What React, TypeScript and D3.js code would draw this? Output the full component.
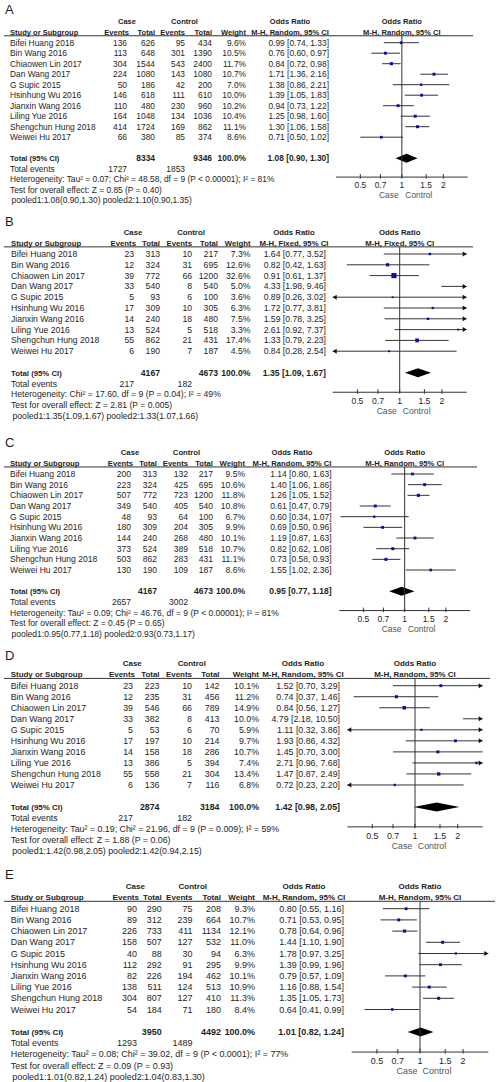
import * as d3 from "d3";

// study names are the same in every panel
const studies = [
  "Bifei Huang 2018", "Bin Wang 2016", "Chiaowen Lin 2017", "Dan Wang 2017", "G Supic 2015",
  "Hsinhung Wu 2016", "Jianxin Wang 2016", "Liling Yue 2016", "Shengchun Hung 2018", "Weiwei Hu 2017",
];
const ticks = [0.5, 0.7, 1, 1.5, 2];

// panel A
const aCaseEvents = [136, 113, 304, 224, 50, 146, 110, 164, 414, 66];
const aCaseTotal = [626, 648, 1544, 1080, 186, 618, 480, 1048, 1724, 380];
const aCtrlEvents = [95, 301, 543, 143, 42, 111, 230, 134, 169, 85];
const aCtrlTotal = [434, 1390, 2400, 1080, 200, 610, 960, 1036, 862, 374];
const aWeight = [9.6, 10.5, 11.7, 10.7, 7.0, 10.0, 10.2, 10.4, 11.1, 8.6];
const aOR = [0.99, 0.76, 0.84, 1.71, 1.38, 1.39, 0.94, 1.25, 1.30, 0.71];
const aLo = [0.74, 0.60, 0.72, 1.36, 0.86, 1.05, 0.73, 0.98, 1.06, 0.50];
const aHi = [1.33, 0.97, 0.98, 2.16, 2.21, 1.83, 1.22, 1.60, 1.58, 1.02];
const aTotals = [8334, 9346, 1727, 1853];
const aPooled = [1.08, 0.90, 1.30];

// panel B
const bCaseEvents = [23, 12, 39, 33, 5, 17, 14, 13, 55, 6];
const bCaseTotal = [313, 324, 772, 540, 93, 309, 240, 524, 862, 190];
const bCtrlEvents = [10, 31, 66, 8, 6, 10, 18, 5, 21, 7];
const bCtrlTotal = [217, 695, 1200, 540, 100, 305, 480, 518, 431, 187];
const bWeight = [7.3, 12.6, 32.6, 5.0, 3.6, 6.3, 7.5, 3.3, 17.4, 4.5];
const bOR = [1.64, 0.82, 0.91, 4.33, 0.89, 1.72, 1.59, 2.61, 1.33, 0.84];
const bLo = [0.77, 0.42, 0.61, 1.98, 0.26, 0.77, 0.78, 0.92, 0.79, 0.28];
const bHi = [3.52, 1.63, 1.37, 9.46, 3.02, 3.81, 3.25, 7.37, 2.23, 2.54];
const bTotals = [4167, 4673, 217, 182];
const bPooled = [1.35, 1.09, 1.67];

// panel C
const cCaseEvents = [200, 223, 507, 349, 48, 180, 144, 373, 503, 130];
const cCaseTotal = [313, 324, 772, 540, 93, 309, 240, 524, 862, 190];
const cCtrlEvents = [132, 425, 723, 405, 64, 204, 268, 389, 283, 109];
const cCtrlTotal = [217, 695, 1200, 540, 100, 305, 480, 518, 431, 187];
const cWeight = [9.5, 10.6, 11.8, 10.8, 6.7, 9.9, 10.1, 10.7, 11.1, 8.6];
const cOR = [1.14, 1.40, 1.26, 0.61, 0.60, 0.69, 1.19, 0.82, 0.73, 1.55];
const cLo = [0.80, 1.06, 1.05, 0.47, 0.34, 0.50, 0.87, 0.62, 0.58, 1.02];
const cHi = [1.63, 1.86, 1.52, 0.79, 1.07, 0.96, 1.63, 1.08, 0.93, 2.36];
const cTotals = [4167, 4673, 2657, 3002];
const cPooled = [0.95, 0.77, 1.18];

// panel D
const dCaseEvents = [23, 12, 39, 33, 5, 17, 14, 13, 55, 6];
const dCaseTotal = [223, 235, 546, 382, 53, 197, 158, 386, 558, 136];
const dCtrlEvents = [10, 31, 66, 8, 6, 10, 18, 5, 21, 7];
const dCtrlTotal = [142, 456, 789, 413, 70, 214, 286, 394, 304, 116];
const dWeight = [10.1, 11.2, 14.9, 10.0, 5.9, 9.7, 10.7, 7.4, 13.4, 6.8];
const dOR = [1.52, 0.74, 0.84, 4.79, 1.11, 1.93, 1.45, 2.71, 1.47, 0.72];
const dLo = [0.70, 0.37, 0.56, 2.18, 0.32, 0.86, 0.70, 0.96, 0.87, 0.23];
const dHi = [3.29, 1.46, 1.27, 10.50, 3.86, 4.32, 3.00, 7.68, 2.49, 2.20];
const dTotals = [2874, 3184, 217, 182];
const dPooled = [1.42, 0.98, 2.05];

// panel E
const eCaseEvents = [90, 89, 226, 158, 40, 112, 82, 138, 304, 54];
const eCaseTotal = [290, 312, 733, 507, 88, 292, 226, 511, 807, 184];
const eCtrlEvents = [75, 239, 411, 127, 30, 91, 194, 124, 127, 71];
const eCtrlTotal = [208, 664, 1134, 532, 94, 295, 462, 513, 410, 180];
const eWeight = [9.3, 10.7, 12.1, 11.0, 6.3, 9.9, 10.1, 10.9, 11.3, 8.4];
const eOR = [0.80, 0.71, 0.78, 1.44, 1.78, 1.39, 0.79, 1.16, 1.35, 0.64];
const eLo = [0.55, 0.53, 0.64, 1.10, 0.97, 0.99, 0.57, 0.88, 1.05, 0.41];
const eHi = [1.16, 0.95, 0.96, 1.90, 3.25, 1.96, 1.09, 1.54, 1.73, 0.99];
const eTotals = [3950, 4492, 1293, 1489];
const ePooled = [1.01, 0.82, 1.24];

const methods = ["Random", "Fixed", "Random", "Random", "Random"];
const hetTexts = [
  "Heterogeneity: Tau² = 0.07; Chi² = 48.58, df = 9 (P < 0.00001); I² = 81%",
  "Heterogeneity: Chi² = 17.60, df = 9 (P = 0.04); I² = 49%",
  "Heterogeneity: Tau² = 0.09; Chi² = 46.76, df = 9 (P < 0.00001); I² = 81%",
  "Heterogeneity: Tau² = 0.19; Chi² = 21.96, df = 9 (P = 0.009); I² = 59%",
  "Heterogeneity: Tau² = 0.08; Chi² = 39.02, df = 9 (P < 0.0001); I² = 77%",
];
const testTexts = [
  "Test for overall effect: Z = 0.85 (P = 0.40)",
  "Test for overall effect: Z = 2.81 (P = 0.005)",
  "Test for overall effect: Z = 0.45 (P = 0.65)",
  "Test for overall effect: Z = 1.88 (P = 0.06)",
  "Test for overall effect: Z = 0.09 (P = 0.93)",
];
const pooledTexts = [
  "pooled1:1.08(0.90,1.30)  pooled2:1.10(0.90,1.35)",
  "pooled1:1.35(1.09,1.67) pooled2:1.33(1.07,1.66)",
  "pooled1:0.95(0.77,1.18) pooled2:0.93(0.73,1.17)",
  "pooled1:1.42(0.98,2.05) pooled2:1.42(0.94,2.15)",
  "pooled1:1.01(0.82,1.24) pooled2:1.04(0.83,1.30)",
];

// where each panel sits in the composite
const layouts = [
  { label: 9, row1: 42.7, step: 10.5, study: 10, cEv: 127, cTot: 155, kEv: 185, kTot: 212, wt: 246, orR: 329, orHead: 290, axL: 336, axR: 467.7, lineEnd: 473 },
  { label: 221, row1: 254, step: 10.8, study: 11, cEv: 134, cTot: 160, kEv: 192, kTot: 218, wt: 250.5, orR: 326, orHead: 294, axL: 332.7, axR: 466.7, lineEnd: 473 },
  { label: 442, row1: 474, step: 10.67, study: 10, cEv: 131, cTot: 157, kEv: 188, kTot: 213, wt: 245, orR: 331.7, orHead: 292, axL: 339.3, axR: 470, lineEnd: 477 },
  { label: 655, row1: 685.7, step: 11.03, study: 10.7, cEv: 133, cTot: 159.5, kEv: 192, kTot: 219.5, wt: 259, orR: 340, orHead: 303, axL: 347.3, axR: 482.7, lineEnd: 490 },
  { label: 874, row1: 908.7, step: 11.2, study: 10.7, cEv: 137, cTot: 161.7, kEv: 192.5, kTot: 221, wt: 255, orR: 344, orHead: 304, axL: 351.7, axR: 488.3, lineEnd: 495 },
];

const panels = [
  { name: "A", ce: aCaseEvents, ct: aCaseTotal, ke: aCtrlEvents, kt: aCtrlTotal, w: aWeight, or: aOR, lo: aLo, hi: aHi, tot: aTotals, pooled: aPooled },
  { name: "B", ce: bCaseEvents, ct: bCaseTotal, ke: bCtrlEvents, kt: bCtrlTotal, w: bWeight, or: bOR, lo: bLo, hi: bHi, tot: bTotals, pooled: bPooled },
  { name: "C", ce: cCaseEvents, ct: cCaseTotal, ke: cCtrlEvents, kt: cCtrlTotal, w: cWeight, or: cOR, lo: cLo, hi: cHi, tot: cTotals, pooled: cPooled },
  { name: "D", ce: dCaseEvents, ct: dCaseTotal, ke: dCtrlEvents, kt: dCtrlTotal, w: dWeight, or: dOR, lo: dLo, hi: dHi, tot: dTotals, pooled: dPooled },
  { name: "E", ce: eCaseEvents, ct: eCaseTotal, ke: eCtrlEvents, kt: eCtrlTotal, w: eWeight, or: eOR, lo: eLo, hi: eHi, tot: eTotals, pooled: ePooled },
];

const fmtCI = (o: number, l: number, h: number) => `${o.toFixed(2)} [${l.toFixed(2)}, ${h.toFixed(2)}]`;
const TXT = "#1e1e1e";
const LINE = "#333";

function Panel({ p, L, idx }: any) {
  const minV = 1 / 3, maxV = 3;
  const x = d3.scaleLog().domain([minV, maxV]).range([L.axL, L.axR]);
  const s = L.step;
  const fs = s * 0.8;
  const hfs = s * 0.72;
  const caseY = L.row1 - 2.05 * s;
  const headY = L.row1 - s;
  const lineY = L.row1 - 0.66 * s;
  const rowY = (i: number) => L.row1 + i * s;
  const totY = rowY(9) + 2 * s;
  const axisY = totY + 1.8 * s;
  const method = methods[idx];
  const num = (v: any, xr: number, y: number, bold = false) => (
    <text x={xr} y={y} dy="0.35em" textAnchor="end" fontWeight={bold ? "bold" : "normal"}>{v}</text>
  );
  const x1 = x(1);
  const dia = [
    [x(p.pooled[1]), totY], [x(p.pooled[0]), totY - 4.5],
    [x(p.pooled[2]), totY], [x(p.pooled[0]), totY + 4.5],
  ];
  return (
    <g fontSize={fs} fill={TXT}>
      <text x={5} y={L.label} dy="0.35em" fontSize={13}>{p.name}</text>
      <g fontWeight="bold" fontSize={hfs}>
        <text x={(L.cEv + L.cTot) / 2 - 14} y={caseY} dy="0.35em" textAnchor="middle">Case</text>
        <text x={(L.kEv + L.kTot) / 2 - 14} y={caseY} dy="0.35em" textAnchor="middle">Control</text>
        <text x={L.orHead} y={caseY} dy="0.35em" textAnchor="middle">Odds Ratio</text>
        <text x={x1} y={caseY} dy="0.35em" textAnchor="middle">Odds Ratio</text>
        <text x={L.study} y={headY} dy="0.35em">Study or Subgroup</text>
        {num("Events", L.cEv + 2, headY, true)}
        {num("Total", L.cTot, headY, true)}
        {num("Events", L.kEv, headY, true)}
        {num("Total", L.kTot, headY, true)}
        {num("Weight", L.wt, headY, true)}
        <text x={L.orHead} y={headY} dy="0.35em" textAnchor="middle">{`M-H, ${method}, 95% CI`}</text>
        <text x={x1} y={headY} dy="0.35em" textAnchor="middle">{`M-H, ${method}, 95% CI`}</text>
      </g>
      <line x1={4} x2={L.lineEnd} y1={lineY} y2={lineY} stroke={LINE} strokeWidth={1} />
      {studies.map((name, i) => {
        const y = rowY(i);
        const lo = Math.max(p.lo[i], minV), hi = Math.min(p.hi[i], maxV);
        const side = Math.max(1.8, 0.9 * Math.sqrt(p.w[i]));
        return (
          <g key={name}>
            <text x={L.study} y={y} dy="0.35em">{name}</text>
            {num(p.ce[i], L.cEv, y)}
            {num(p.ct[i], L.cTot, y)}
            {num(p.ke[i], L.kEv, y)}
            {num(p.kt[i], L.kTot, y)}
            {num(p.w[i].toFixed(1) + "%", L.wt, y)}
            {num(fmtCI(p.or[i], p.lo[i], p.hi[i]), L.orR, y)}
            <line x1={x(lo)} x2={x(hi)} y1={y} y2={y} stroke={LINE} strokeWidth={1} />
            {p.hi[i] > maxV && (
              <path d={`M${L.axR},${y}L${L.axR - 4},${y - 2.5}L${L.axR - 4},${y + 2.5}Z`} fill="#111" />
            )}
            {p.lo[i] < minV && (
              <path d={`M${L.axL},${y}L${L.axL + 4},${y - 2.5}L${L.axL + 4},${y + 2.5}Z`} fill="#111" />
            )}
            {p.or[i] <= maxV && p.or[i] >= minV && (
              <rect x={x(p.or[i]) - side / 2} y={y - side / 2} width={side} height={side} fill="#0c0ca8" />
            )}
          </g>
        );
      })}
      <g fontWeight="bold">
        <text x={L.study} y={totY} dy="0.35em" fontSize={hfs}>Total (95% CI)</text>
        {num(p.tot[0], L.cTot, totY, true)}
        {num(p.tot[1], L.kTot, totY, true)}
        {num("100.0%", L.wt, totY, true)}
        {num(fmtCI(p.pooled[0], p.pooled[1], p.pooled[2]), L.orR, totY, true)}
      </g>
      <text x={L.study} y={totY + s} dy="0.35em">Total events</text>
      {num(p.tot[2], L.cEv, totY + s)}
      {num(p.tot[3], L.kEv, totY + s)}
      <text x={L.study} y={totY + 2 * s} dy="0.35em">{hetTexts[idx]}</text>
      <text x={L.study} y={totY + 3 * s} dy="0.35em">{testTexts[idx]}</text>
      <text x={L.study + 1.5} y={totY + 4 * s} dy="0.35em">{pooledTexts[idx]}</text>
      <path d={d3.line()(dia as [number, number][]) + "Z"} fill="#000" />
      <line x1={x1} x2={x1} y1={lineY} y2={axisY} stroke={LINE} strokeWidth={1} />
      <line x1={L.axL} x2={L.axR} y1={axisY} y2={axisY} stroke={LINE} strokeWidth={1} />
      {ticks.map((t) => (
        <g key={t}>
          <line x1={x(t)} x2={x(t)} y1={axisY - 3} y2={axisY + 1.5} stroke={LINE} strokeWidth={1} />
          <text x={x(t)} y={axisY + 0.8 * s} dy="0.35em" textAnchor="middle">{t}</text>
        </g>
      ))}
      <text x={x1 - 13} y={axisY + 1.7 * s} dy="0.35em" textAnchor="middle" fill="#555">Case</text>
      <text x={x1 + 17} y={axisY + 1.7 * s} dy="0.35em" textAnchor="middle" fill="#555">Control</text>
    </g>
  );
}

export default function App() {
  return (
    <svg
      width={498}
      height={1082}
      style={{ position: "absolute", left: 0, top: 0, background: "#fff" }}
      fontFamily="'Liberation Sans', Arial, sans-serif"
    >
      {panels.map((p, i) => (
        <Panel key={p.name} p={p} L={layouts[i]} idx={i} />
      ))}
    </svg>
  );
}
